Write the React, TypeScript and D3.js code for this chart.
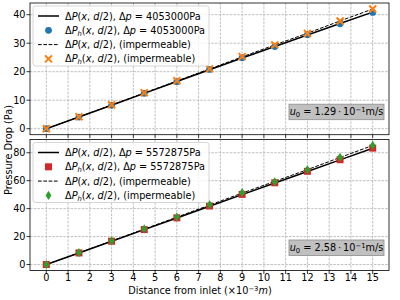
import * as d3 from "d3";

const WIDTH = 400;
const HEIGHT = 300;
const FONT = "DejaVu Sans, sans-serif";
const FS = 9.72;
const FS_SMALL = 6.8;

const X_VALUES = [0, 1.5, 3, 4.5, 6, 7.5, 9, 10.5, 12, 13.5, 15];
const X_TICKS = d3.range(0, 16);

// top panel: u0 = 1.29e-1
const TOP_LINE = [0, 4.1, 8.25, 12.4, 16.55, 20.7, 24.8, 28.85, 32.9, 36.9, 40.9];
const TOP_LINE_IMP = [0, 4.15, 8.35, 12.55, 16.75, 20.95, 25.2, 29.4, 33.5, 37.8, 42.0];
const TOP_MARK = [0, 4.1, 8.2, 12.4, 16.5, 20.8, 24.9, 28.8, 33.0, 36.8, 40.8];
const TOP_MARK_IMP = [0, 4.2, 8.4, 12.6, 16.8, 21.0, 25.3, 29.4, 33.4, 37.8, 42.0];
const TOP_Y_TICKS = [0, 10, 20, 30, 40];

// bottom panel: u0 = 2.58e-1
const BOT_LINE = [0, 8.3, 16.65, 25.0, 33.3, 41.7, 50.0, 58.3, 66.6, 74.9, 83.2];
const BOT_LINE_IMP = [0, 8.4, 16.9, 25.4, 33.9, 42.5, 51.1, 59.5, 67.9, 76.6, 85.2];
const BOT_MARK = [0, 8.3, 16.7, 25.0, 33.4, 41.9, 50.2, 58.5, 66.7, 75.0, 83.3];
const BOT_MARK_IMP = [0, 8.5, 17.0, 25.5, 34.0, 42.9, 51.4, 59.2, 67.9, 76.7, 85.2];
const BOT_Y_TICKS = [0, 20, 40, 60, 80];

const PANELS = [
  {
    top: 3,
    bottom: 134.7,
    yDomain: [-2.1, 44.1],
    yTicks: TOP_Y_TICKS,
    line: TOP_LINE,
    lineImp: TOP_LINE_IMP,
    mark: TOP_MARK,
    markImp: TOP_MARK_IMP,
    dp: "4053000",
    u0: "1.29",
    markA: { shape: "circle", color: "#1f77b4" },
    markB: { shape: "x", color: "#ff7f0e" },
    showXLabels: false,
  },
  {
    top: 139.5,
    bottom: 270.5,
    yDomain: [-4.26, 89.46],
    yTicks: BOT_Y_TICKS,
    line: BOT_LINE,
    lineImp: BOT_LINE_IMP,
    mark: BOT_MARK,
    markImp: BOT_MARK_IMP,
    dp: "5572875",
    u0: "2.58",
    markA: { shape: "square", color: "#d62728" },
    markB: { shape: "diamond", color: "#2ca02c" },
    showXLabels: true,
  },
];

const LEFT = 30;
const RIGHT = 389;

const x = d3.scaleLinear().domain([-0.75, 15.75]).range([LEFT, RIGHT]);

function Marker({ shape, color, cx, cy }) {
  if (shape === "circle") return <circle cx={cx} cy={cy} r={3.4} fill={color} />;
  if (shape === "square") return <rect x={cx - 3.5} y={cy - 3.5} width={7} height={7} fill={color} />;
  if (shape === "diamond")
    return <path d={`M${cx},${cy - 4.6}L${cx + 2.9},${cy}L${cx},${cy + 4.6}L${cx - 2.9},${cy}Z`} fill={color} />;
  // filled X
  const a = 1.4;
  const b = 4.2;
  const pts = [
    [0, -a], [b - a, -b], [b, -b + a], [a, 0], [b, b - a], [b - a, b],
    [0, a], [-b + a, b], [-b, b - a], [-a, 0], [-b, -b + a], [-b + a, -b],
  ];
  return <path d={`M${pts.map((p) => `${cx + p[0]},${cy + p[1]}`).join("L")}Z`} fill={color} />;
}

function Label({ sub, tail, px, py }) {
  return (
    <text x={px} y={py} fontSize={FS} fontFamily={FONT} fill="#000">
      <tspan>Δ</tspan>
      <tspan fontStyle="italic">P</tspan>
      {sub && (
        <tspan fontStyle="italic" fontSize={FS_SMALL} dy={2}>
          h
        </tspan>
      )}
      <tspan dy={sub ? -2 : 0}>(</tspan>
      <tspan fontStyle="italic">x</tspan>
      <tspan>, </tspan>
      <tspan fontStyle="italic">d</tspan>
      <tspan>/2), </tspan>
      {tail}
    </text>
  );
}

function Panel({ p }) {
  const y = d3.scaleLinear().domain(p.yDomain).range([p.bottom, p.top]);
  const line = d3
    .line()
    .x((d, i) => x(X_VALUES[i]))
    .y((d) => y(d));
  const legendRows = [
    { kind: "solid", sub: false, imp: false },
    { kind: "markA", sub: true, imp: false },
    { kind: "dashed", sub: false, imp: true },
    { kind: "markB", sub: true, imp: true },
  ];
  const lx = 33;
  const ly = p.top + 3;
  const dpTail = (
    <>
      <tspan>Δ</tspan>
      <tspan fontStyle="italic">p</tspan>
      <tspan> = {p.dp}Pa</tspan>
    </>
  );
  return (
    <g>
      <defs>
        <clipPath id={`clip-${p.dp}`}>
          <rect x={LEFT} y={p.top} width={RIGHT - LEFT} height={p.bottom - p.top} />
        </clipPath>
      </defs>
      {X_TICKS.map((t) => (
        <line key={`gx${t}`} x1={x(t)} x2={x(t)} y1={p.top} y2={p.bottom} stroke="#b0b0b0" strokeWidth={0.8} strokeDasharray="2.5,1.2" />
      ))}
      {p.yTicks.map((t) => (
        <line key={`gy${t}`} x1={LEFT} x2={RIGHT} y1={y(t)} y2={y(t)} stroke="#b0b0b0" strokeWidth={0.8} strokeDasharray="2.5,1.2" />
      ))}
      <g clipPath={`url(#clip-${p.dp})`}>
        <path d={line(p.line)} fill="none" stroke="#000" strokeWidth={1.5} />
        <path d={line(p.lineImp)} fill="none" stroke="#000" strokeWidth={1} strokeDasharray="3.7,1.6" />
        {X_VALUES.map((xv, i) => (
          <Marker key={`a${i}`} shape={p.markA.shape} color={p.markA.color} cx={x(xv)} cy={y(p.mark[i])} />
        ))}
        {X_VALUES.map((xv, i) => (
          <Marker key={`b${i}`} shape={p.markB.shape} color={p.markB.color} cx={x(xv)} cy={y(p.markImp[i])} />
        ))}
      </g>
      <rect x={LEFT} y={p.top} width={RIGHT - LEFT} height={p.bottom - p.top} fill="none" stroke="#000" strokeWidth={0.8} />
      {p.yTicks.map((t) => (
        <g key={`ty${t}`}>
          <line x1={LEFT - 3.5} x2={LEFT} y1={y(t)} y2={y(t)} stroke="#000" strokeWidth={0.8} />
          <text x={LEFT - 4.5} y={y(t) + 3.5} textAnchor="end" fontSize={FS} fontFamily={FONT}>
            {t}
          </text>
        </g>
      ))}
      {X_TICKS.map((t) => (
        <g key={`tx${t}`}>
          <line x1={x(t)} x2={x(t)} y1={p.bottom} y2={p.bottom + 3.5} stroke="#000" strokeWidth={0.8} />
          {p.showXLabels && (
            <text x={x(t)} y={p.bottom + 10.5} textAnchor="middle" fontSize={FS} fontFamily={FONT}>
              {t}
            </text>
          )}
        </g>
      ))}

      <rect x={lx} y={ly} width={176} height={60} rx={2.5} fill="#fff" fillOpacity={0.8} stroke="#cccccc" strokeWidth={0.8} />
      {legendRows.map((r, i) => {
        const ry = ly + 10 + i * 14.3;
        let handle;
        if (r.kind === "solid") handle = <line x1={38} x2={59} y1={ry} y2={ry} stroke="#000" strokeWidth={1.5} />;
        else if (r.kind === "dashed")
          handle = <line x1={38} x2={59} y1={ry} y2={ry} stroke="#000" strokeWidth={1} strokeDasharray="3.7,1.6" />;
        else {
          const m = r.kind === "markA" ? p.markA : p.markB;
          handle = <Marker shape={m.shape} color={m.color} cx={48.5} cy={ry} />;
        }
        return (
          <g key={i}>
            {handle}
            <Label sub={r.sub} px={65} py={ry + 3.5} tail={r.imp ? <tspan>{r.sub ? " " : ""}(impermeable)</tspan> : dpTail} />
          </g>
        );
      })}

      <rect x={289} y={p.bottom - 30.5} width={95} height={15.5} fill="#c0c0c0" stroke="#8c8c8c" strokeWidth={0.8} />
      <text x={336.5} y={p.bottom - 19.3} textAnchor="middle" fontSize={FS} fontFamily={FONT}>
        <tspan fontStyle="italic">u</tspan>
        <tspan fontSize={FS_SMALL} dy={2}>0</tspan>
        <tspan dy={-2}>{" = "}{p.u0}{"\u2009·\u200910"}</tspan>
        <tspan fontSize={FS_SMALL} dy={-3.5}>−1</tspan>
        <tspan dy={3.5}>m/s</tspan>
      </text>
    </g>
  );
}

export default function App() {
  return (
    <div style={{ position: "fixed", left: 0, top: 0 }}>
      <svg width={WIDTH} height={HEIGHT} viewBox={`0 0 ${WIDTH} ${HEIGHT}`} style={{ display: "block", background: "#fff" }}>
        {PANELS.map((p) => (
          <Panel key={p.dp} p={p} />
        ))}
        <text transform={`translate(12 ${HEIGHT / 2}) rotate(-90)`} textAnchor="middle" fontSize={FS} fontFamily={FONT}>
          Pressure Drop (Pa)
        </text>
        <text x={WIDTH / 2} y={294} textAnchor="middle" fontSize={FS} fontFamily={FONT}>
          <tspan>Distance from inlet (×10</tspan>
          <tspan fontSize={FS_SMALL} dy={-3.5}>−3</tspan>
          <tspan fontStyle="italic" dy={3.5}>m</tspan>
          <tspan>)</tspan>
        </text>
      </svg>
    </div>
  );
}
